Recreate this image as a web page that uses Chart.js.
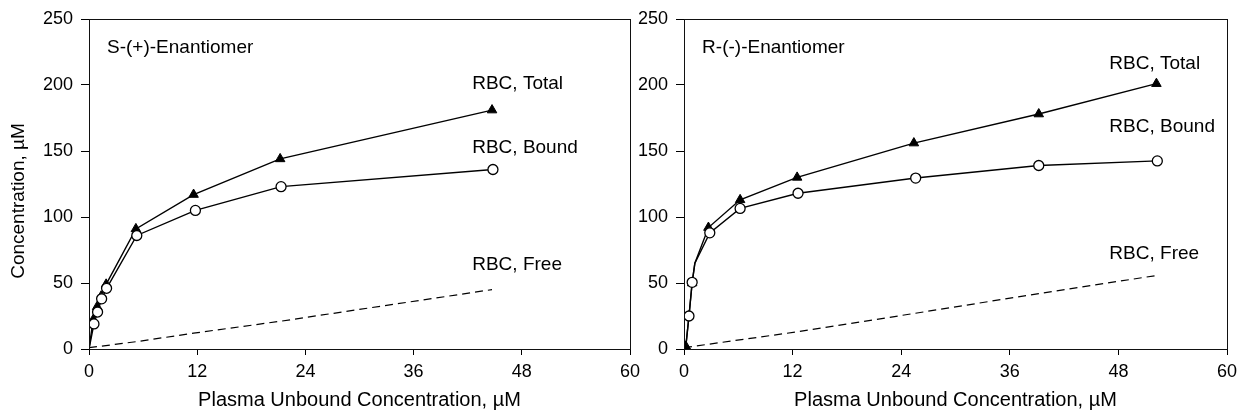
<!DOCTYPE html>
<html>
<head>
<meta charset="utf-8">
<script src="https://cdn.jsdelivr.net/npm/chart.js@4"></script>
<style>
body { margin: 0; background: #fff; width: 1238px; height: 413px; position: relative; overflow: hidden; }
.box { position: absolute; top: 0; height: 413px; }
</style>
</head>
<body>
<div class="box" style="left:634px;width:604px"><canvas id="chart-r"></canvas></div>
<div class="box" style="left:0;width:650px"><canvas id="chart-s"></canvas></div>
<script>
// x ticks / y ticks
var xTicks = [0, 12, 24, 36, 48, 60];
var yTicks = [0, 50, 100, 150, 200, 250];

// S-(+)-Enantiomer
var s_total_x = [0, 0.45, 0.9, 1.35, 1.9, 5.2, 11.6, 21.2, 44.7];
var s_total_y = [0, 22, 32, 40, 49, 91, 117, 144, 181];
var s_bound_x = [0, 0.55, 0.95, 1.4, 1.95, 5.3, 11.8, 21.3, 44.8];
var s_bound_y = [0, 19, 28, 38, 46, 86, 105, 123, 136];
var s_free_x = [0, 5.2, 11.6, 21.2, 44.7];
var s_free_y = [1, 5.5, 12, 21, 45];

// R-(-)-Enantiomer
var r_total_x = [0.2, 0.55, 0.9, 1.2, 2.7, 6.2, 12.5, 25.4, 39.2, 52.2];
var r_total_y = [2, 25, 50, 65, 92, 113, 130, 156, 178, 201];
var r_bound_x = [0.2, 0.55, 0.9, 1.2, 2.85, 6.2, 12.6, 25.6, 39.2, 52.3];
var r_bound_y = [2, 25, 50.5, 65, 88, 106.5, 118, 129.5, 139, 142.5];
var r_free_x = [0, 12.5, 25.5, 39.2, 52.5];
var r_free_y = [1, 13, 27, 42, 56];

var FONT = 'Liberation Sans, Arial, Helvetica, sans-serif';

function pts(xs, ys) {
	var out = [];
	for (var i = 0; i < xs.length; i++) { out.push({x: xs[i], y: ys[i]}); }
	return out;
}

// bordo del grafico
var framePlugin = {
	id: 'frame',
	afterDraw: function(chart) {
		var a = chart.chartArea, ctx = chart.ctx;
		ctx.save();
		ctx.strokeStyle = '#111';
		ctx.lineWidth = 1;
		ctx.strokeRect(a.left + 0.5, a.top + 0.5, a.right - a.left, a.bottom - a.top);
		ctx.restore();
	}
};

// etichette di testo + titolo asse y
var labelPlugin = {
	id: 'labels',
	afterDraw: function(chart, args, opts) {
		var ctx = chart.ctx, xs = chart.scales.x, ys = chart.scales.y;
		ctx.save();
		ctx.fillStyle = '#000';
		ctx.font = '19px ' + FONT;
		ctx.textBaseline = 'middle';
		ctx.textAlign = 'left';
		opts.items.forEach(function(it) {
			ctx.fillText(it.text, xs.getPixelForValue(it.x), ys.getPixelForValue(it.y));
		});
		if (opts.yTitle) {
			ctx.translate(19, 201);
			ctx.rotate(-Math.PI / 2);
			ctx.textAlign = 'center';
			ctx.fillText(opts.yTitle, 0, 0);
		}
		ctx.restore();
	}
};

function makeChart(id, sets, yWidth, padRight, yTitle, notes) {
	var ctx = document.getElementById(id).getContext('2d');
	return new Chart(ctx, {
		type: 'line',
		data: {
			datasets: [{
				label: 'RBC, Bound',
				data: pts(sets.bx, sets.by),
				borderColor: '#000',
				borderWidth: 1.4,
				backgroundColor: '#fff',
				pointStyle: 'circle',
				pointRadius: sets.bx.map(function(v, i) { return sets.bHide.indexOf(i) >= 0 ? 0 : 5; }),
				pointBorderWidth: 1.3,
				pointBorderColor: '#000',
				pointBackgroundColor: '#fff',
				tension: 0,
				order: 1
			}, {
				label: 'RBC, Total',
				data: pts(sets.tx, sets.ty),
				borderColor: '#000',
				borderWidth: 1.4,
				backgroundColor: '#000',
				pointStyle: 'triangle',
				pointRadius: sets.tx.map(function(v, i) { return sets.tHide.indexOf(i) >= 0 ? 0 : 5.5; }),
				pointBorderWidth: 1,
				pointBorderColor: '#000',
				pointBackgroundColor: '#000',
				tension: 0,
				order: 2
			}, {
				label: 'RBC, Free',
				data: pts(sets.fx, sets.fy),
				borderColor: '#000',
				borderWidth: 1.2,
				borderDash: [8, 5],
				pointRadius: 0,
				tension: 0,
				order: 3
			}]
		},
		options: {
			responsive: true,
			maintainAspectRatio: false,
			animation: false,
			events: [],
			layout: { autoPadding: false, padding: { top: 19, right: padRight, left: 0, bottom: 0 } },
			plugins: {
				legend: { display: false },
				tooltip: { enabled: false },
				labels: { items: notes, yTitle: yTitle }
			},
			scales: {
				x: {
					type: 'linear', min: 0, max: 60,
					afterBuildTicks: function(s) { s.ticks = xTicks.map(function(v) { return {value: v}; }); },
					afterFit: function(s) { s.height = 64; s.paddingLeft = 0; s.paddingRight = 0; },
					ticks: { color: '#000', font: { family: FONT, size: 18 }, padding: 6, maxRotation: 0 },
					grid: { drawOnChartArea: false, tickLength: 6, color: '#000' },
					border: { color: '#000' },
					title: { display: true, text: 'Plasma Unbound Concentration, µM', color: '#000',
						font: { family: FONT, size: 20 }, padding: { top: 0, bottom: 1 } }
				},
				y: {
					type: 'linear', min: 0, max: 250,
					afterBuildTicks: function(s) { s.ticks = yTicks.map(function(v) { return {value: v}; }); },
					afterFit: function(s) { s.width = yWidth; s.paddingTop = 0; s.paddingBottom = 0; },
					ticks: { color: '#000', font: { family: FONT, size: 18 }, padding: 8 },
					grid: { drawOnChartArea: false, tickLength: 8, color: '#000' },
					border: { color: '#000' },
					title: { display: false }
				}
			}
		},
		plugins: [framePlugin, labelPlugin]
	});
}

makeChart('chart-s', {
	tx: s_total_x, ty: s_total_y, bx: s_bound_x, by: s_bound_y, fx: s_free_x, fy: s_free_y,
	tHide: [0], bHide: [0]
}, 89, 20, 'Concentration, µM', [
	{ text: 'S-(+)-Enantiomer', x: 2.0, y: 228 },
	{ text: 'RBC, Total', x: 42.5, y: 200.6 },
	{ text: 'RBC, Bound', x: 42.5, y: 152.7 },
	{ text: 'RBC, Free', x: 42.5, y: 63.8 }
]);

makeChart('chart-r', {
	tx: r_total_x, ty: r_total_y, bx: r_bound_x, by: r_bound_y, fx: r_free_x, fy: r_free_y,
	tHide: [3], bHide: [0, 3]
}, 50, 11, '', [
	{ text: 'R-(-)-Enantiomer', x: 2.0, y: 228 },
	{ text: 'RBC, Total', x: 47.0, y: 216 },
	{ text: 'RBC, Bound', x: 47.0, y: 168 },
	{ text: 'RBC, Free', x: 47.0, y: 72 }
]);
</script>
</body>
</html>
